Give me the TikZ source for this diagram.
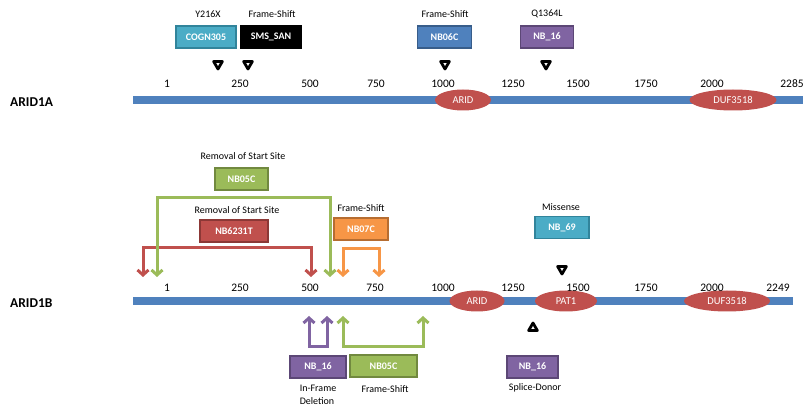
\documentclass[tikz,border=0pt]{standalone}
\usepackage{fontspec}
\setmainfont{Carlito}
\usetikzlibrary{arrows.meta,shapes.geometric}
\definecolor{barblue}{HTML}{4F81BD}
\definecolor{tealf}{HTML}{4BACC6}\definecolor{tealb}{HTML}{31849B}
\definecolor{bluef}{HTML}{4F81BD}\definecolor{blueb}{HTML}{385D8A}
\definecolor{purf}{HTML}{8064A2}\definecolor{purb}{HTML}{5C4776}
\definecolor{grnf}{HTML}{9BBB59}\definecolor{grnb}{HTML}{71893F}
\definecolor{redf}{HTML}{C0504D}\definecolor{redb}{HTML}{8C3836}
\definecolor{orf}{HTML}{F79646}\definecolor{orb}{HTML}{B66D31}
\tikzset{
  mbox/.style={draw, line width=1.8pt, minimum height=22pt, inner sep=0pt, text=white, font=\fontsize{10}{12}\selectfont\bfseries},
  lbl/.style={font=\fontsize{10}{12}\selectfont, inner sep=0pt},
  tick/.style={font=\fontsize{11.5}{13}\selectfont, inner sep=0pt},
  dom/.style={ellipse, fill=redf, text=white, inner sep=0pt, font=\fontsize{10.5}{12}\selectfont},
  tdown/.style={regular polygon, regular polygon sides=3, shape border rotate=180, draw, line width=2.8pt, line join=round, fill=white, minimum size=10pt, inner sep=0pt},
  tup/.style={regular polygon, regular polygon sides=3, draw, line width=2.8pt, line join=round, fill=white, minimum size=10pt, inner sep=0pt},
  brk/.style={line width=3pt, {Straight Barb[length=5pt,width=11pt]}-{Straight Barb[length=5pt,width=11pt]}},
  prot/.style={font=\fontsize{13.5}{15}\selectfont\bfseries, inner sep=0pt}
}
\begin{document}
\begin{tikzpicture}[x=1pt,y=-1pt]
\useasboundingbox[fill=white] (0,0) rectangle (807,414);
% ---------- ARID1A ----------
\node[prot, anchor=west] (a1) at (10,102) {ARID1A};
\fill[barblue] (133,96) rectangle (803,104);
\node[dom, minimum width=56pt, minimum height=21pt] (a1arid) at (463,100) {ARID};
\node[dom, minimum width=87pt, minimum height=21pt] (a1duf) at (733,100) {DUF3518};
\foreach \x/\t [count=\i] in {167/1,240/250,310/500,376/750,443/1000,513/1250,578/1500,646/1750,712/2000,792/2285}
  \node[tick] (a1t\i) at (\x,84) {\t};
\node[mbox, fill=tealf, draw=tealb, minimum width=60pt] (cogn) at (206,37) {COGN305};
\node[mbox, fill=black, draw=black, minimum width=61pt] (sms) at (271,37) {SMS\_SAN};
\node[mbox, fill=bluef, draw=blueb, minimum width=54pt] (nb06c) at (444.5,37) {NB06C};
\node[mbox, fill=purf, draw=purb, minimum width=53pt] (nb16a) at (547,37) {NB\_16};
\node[lbl] (l1) at (208,14) {Y216X};
\node[lbl] (l2) at (272,14) {Frame-Shift};
\node[lbl] (l3) at (445,14) {Frame-Shift};
\node[lbl] (l4) at (547,14) {Q1364L};
\node[tdown] (t1) at (218,64) {};
\node[tdown] (t2) at (248,64) {};
\node[tdown] (t3) at (445,64) {};
\node[tdown] (t4) at (546,64) {};
% ---------- ARID1B ----------
\node[prot, anchor=west] (a2) at (10,303) {ARID1B};
\fill[barblue] (133,297) rectangle (793,305);
\node[dom, minimum width=55pt, minimum height=21pt] (a2arid) at (477,301) {ARID};
\node[dom, minimum width=62pt, minimum height=21pt] (a2pat) at (566,301) {PAT1};
\node[dom, minimum width=86pt, minimum height=21pt] (a2duf) at (727,301) {DUF3518};
\foreach \x/\t [count=\i] in {167/1,240/250,310/500,375/750,443/1000,513/1250,578/1500,646/1750,712/2000,778/2249}
  \node[tick] (a2t\i) at (\x,288) {\t};
% top boxes
\node[lbl] (l5) at (243,156) {Removal of Start Site};
\node[mbox, fill=grnf, draw=grnb, minimum width=53pt] (nb05a) at (241.5,179) {NB05C};
\node[lbl] (l6) at (237,210) {Removal of Start Site};
\node[mbox, fill=redf, draw=redb, minimum width=68pt] (nb62) at (234,231) {NB6231T};
\node[lbl] (l7) at (361,208) {Frame-Shift};
\node[mbox, fill=orf, draw=orb, minimum width=54pt] (nb07) at (361,229) {NB07C};
\node[lbl] (l8) at (561,207) {Missense};
\node[mbox, fill=tealf, draw=tealb, minimum width=54pt] (nb69) at (562,227.5) {NB\_69};
\node[tdown] (t5) at (562,269) {};
% brackets above
\coordinate (gl) at (157,277); \coordinate (gr) at (330,277);
\coordinate (rl) at (143,277); \coordinate (rr) at (311,277);
\coordinate (ol) at (343,277); \coordinate (or) at (379,277);
\draw[brk, draw=redf] (rl) -- ++(0,-29) -| (rr);
\draw[brk, draw=grnf] (gl) -- ++(0,-79) -| (gr);
\draw[brk, draw=orf] (ol) -- ++(0,-28) -| (or);
% below
\coordinate (pl) at (309,316); \coordinate (pr) at (327,316);
\coordinate (bl) at (343,316); \coordinate (br) at (423,316);
\draw[brk, draw=purf] (pl) -- ++(0,31) -| (pr);
\draw[brk, draw=grnf] (bl) -- ++(0,31) -| (br);
\node[mbox, fill=purf, draw=purb, minimum width=56pt] (nb16b) at (318,367) {NB\_16};
\node[mbox, fill=grnf, draw=grnb, minimum width=67pt] (nb05b) at (383.5,366) {NB05C};
\node[lbl, align=left] (l9) at (318,395) {In-Frame\\[1pt]Deletion};
\node[lbl] (l10) at (385,389) {Frame-Shift};
\node[tup] (t6) at (533,328) {};
\node[mbox, fill=purf, draw=purb, minimum width=51pt] (nb16c) at (532.5,367) {NB\_16};
\node[lbl] (l11) at (535,388) {Splice-Donor};
\end{tikzpicture}
\end{document}
